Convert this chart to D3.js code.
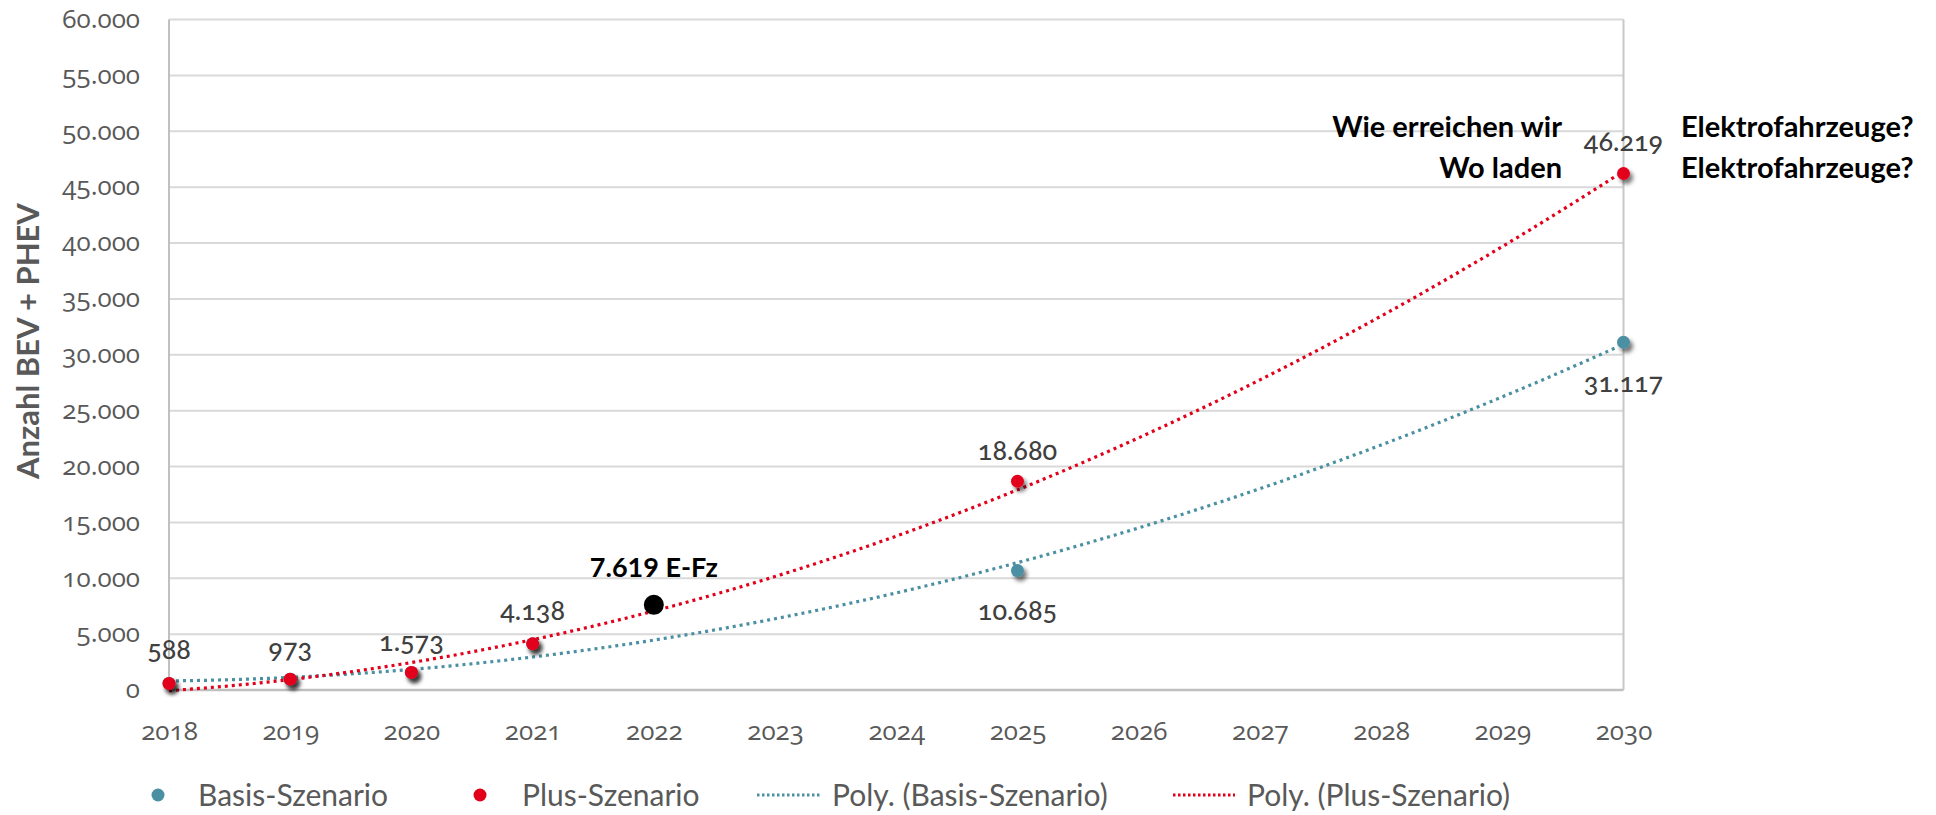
<!DOCTYPE html>
<html><head><meta charset="utf-8">
<script src="https://cdn.jsdelivr.net/npm/d3@7"></script>
<style>
html,body{margin:0;padding:0;background:#fff;}
svg{display:block;}
text{font-family:Lato,"Open Sans",sans-serif;}
.onum{font-family:"Open Sans",Lato,sans-serif;font-variant-numeric:oldstyle-nums;font-feature-settings:"onum" 1;}
</style></head><body>
<svg id="chart" width="1936" height="815"></svg>
<script>
// ---- data ----
const years = ["2018","2019","2020","2021","2022","2023","2024","2025","2026","2027","2028","2029","2030"];
const basisYears = ["2018","2019","2020","2021","2025","2030"];
const basisValues = [588, 973, 1573, 4138, 10685, 31117];
const plusYears = ["2018","2019","2020","2021","2025","2030"];
const plusValues = [588, 973, 1573, 4138, 18680, 46219];
const yTicks = [0,5000,10000,15000,20000,25000,30000,35000,40000,45000,50000,55000,60000];
const highlightYear = "2022";
const highlightValue = 7619;
const highlightLabel = "7.619 E-Fz";
const legendLabels = ["Basis-Szenario","Plus-Szenario","Poly. (Basis-Szenario)","Poly. (Plus-Szenario)"];
const yTitle = "Anzahl BEV + PHEV";
const noteLeft = ["Wie erreichen wir","Wo laden"];
const noteRight = ["Elektrofahrzeuge?","Elektrofahrzeuge?"];

const RED = "#e2001a", TEAL = "#4b8fa2", GREY = "#595959", LBL = "#404040";
const fmt = v => v === 0 ? "0" : d3.format(",")(v).replace(/,/g, ".");

const svg = d3.select("#chart");
const x = d3.scalePoint().domain(years).range([169, 1623.5]);
const y = d3.scaleLinear().domain([0, 60000]).range([690, 19.5]);

// drop shadow filter
const defs = svg.append("defs");
const f = defs.append("filter").attr("id","sh").attr("x","-50%").attr("y","-50%").attr("width","250%").attr("height","250%");
f.append("feDropShadow").attr("dx",3).attr("dy",4).attr("stdDeviation",2.2).attr("flood-color","#000").attr("flood-opacity",0.55);

// gridlines
svg.append("g").selectAll("line").data(yTicks.filter(d => d > 0)).join("line")
  .attr("x1", 169).attr("x2", 1623.5).attr("y1", d => y(d)).attr("y2", d => y(d))
  .attr("stroke", "#d9d9d9").attr("stroke-width", 2);
// border lines
svg.append("line").attr("x1",169).attr("x2",169).attr("y1",y(60000)).attr("y2",y(0)).attr("stroke","#c0c0c0").attr("stroke-width",2);
svg.append("line").attr("x1",1623.5).attr("x2",1623.5).attr("y1",y(60000)).attr("y2",y(0)).attr("stroke","#c8c8c8").attr("stroke-width",2);
svg.append("line").attr("x1",169).attr("x2",1623.5).attr("y1",y(0)).attr("y2",y(0)).attr("stroke","#c0c0c0").attr("stroke-width",2.5);

// y axis labels
const yAxis = d3.axisLeft(y).tickValues(yTicks).tickFormat(fmt).tickSize(0).tickPadding(0);
const ya = svg.append("g").attr("transform","translate(140,0)").call(yAxis);
ya.select(".domain").remove();
ya.selectAll("text").attr("class","onum").attr("fill",GREY).style("font-size","26px").style("font-weight",400).attr("dy","0.3em");

// x axis labels
const xAxis = d3.axisBottom(x).tickSize(0).tickPadding(0);
const xa = svg.append("g").attr("transform","translate(0,732)").call(xAxis);
xa.select(".domain").remove();
xa.selectAll("text").attr("class","onum").attr("fill",GREY).style("font-size","26px").style("font-weight",400).attr("dy","0.3em");

// y title
svg.append("text").attr("transform","translate(28,341) rotate(-90)").attr("text-anchor","middle").attr("dy","0.35em")
  .attr("fill",GREY).style("font-size","31px").style("font-weight",700).text(yTitle);

// polynomial trendlines (least squares, order 2, on category index)
function polyFit(xs, ys, order){
  const n = order + 1;
  const A = Array.from({length:n}, () => new Array(n+1).fill(0));
  xs.forEach((xi, k) => {
    for (let i = 0; i < n; i++){
      for (let j = 0; j < n; j++) A[i][j] += Math.pow(xi, i + j);
      A[i][n] += ys[k] * Math.pow(xi, i);
    }
  });
  for (let i = 0; i < n; i++){
    let p = i; for (let r = i+1; r < n; r++) if (Math.abs(A[r][i]) > Math.abs(A[p][i])) p = r;
    [A[i], A[p]] = [A[p], A[i]];
    for (let r = 0; r < n; r++){ if (r === i) continue; const c = A[r][i] / A[i][i]; for (let cc = i; cc <= n; cc++) A[r][cc] -= c * A[i][cc]; }
  }
  return A.map((row, i) => row[n] / row[i]);
}
const idx = yr => years.indexOf(yr) + 1;
function trend(yrs, vals){
  const c = polyFit(yrs.map(idx), vals, 2);
  const pts = [];
  for (let t = 1; t <= years.length; t += 0.05){
    const v = c.reduce((s, ci, i) => s + ci * Math.pow(t, i), 0);
    pts.push([169 + (t - 1) * x.step(), y(v)]);
  }
  return pts;
}
const line = d3.line();
svg.append("path").attr("d", line(trend(basisYears, basisValues))).attr("fill","none").attr("stroke",TEAL)
  .attr("stroke-width",3.2).attr("stroke-dasharray","3 4");
svg.append("path").attr("d", line(trend(plusYears, plusValues))).attr("fill","none").attr("stroke",RED)
  .attr("stroke-width",3.2).attr("stroke-dasharray","3 4");

// points
svg.append("g").selectAll("circle").data(basisYears.map((d,i)=>[d,basisValues[i]])).join("circle")
  .attr("cx", d => x(d[0])).attr("cy", d => y(d[1])).attr("r", 6.5).attr("fill", TEAL).attr("filter","url(#sh)");
svg.append("g").selectAll("circle").data(plusYears.map((d,i)=>[d,plusValues[i]])).join("circle")
  .attr("cx", d => x(d[0])).attr("cy", d => y(d[1])).attr("r", 6.5).attr("fill", RED).attr("filter","url(#sh)");

// highlight point
svg.append("circle").attr("cx", x(highlightYear)).attr("cy", y(highlightValue)).attr("r", 10).attr("fill","#000");
svg.append("text").attr("x", x(highlightYear)).attr("y", y(highlightValue) - 37).attr("text-anchor","middle").attr("dy","0.35em")
  .attr("fill","#000").style("font-size","27px").style("font-weight",700).text(highlightLabel);

// data labels
const lbl = svg.append("g").attr("class","onum").attr("fill",LBL).style("font-size","27px").style("font-weight",500).attr("text-anchor","middle");
const plusOffsets = [-34, -31, -31, -33, -31, -32];
plusYears.forEach((yr, i) => {
  lbl.append("text").attr("x", x(yr)).attr("y", y(plusValues[i]) + plusOffsets[i]).attr("dy","0.35em").text(fmt(plusValues[i]));
});
basisYears.forEach((yr, i) => {
  if (+yr < 2025) return;
  lbl.append("text").attr("x", x(yr)).attr("y", y(basisValues[i]) + 40).attr("dy","0.35em").text(fmt(basisValues[i]));
});

// annotations
const notes = svg.append("g").attr("fill","#000").style("font-size","29px").style("font-weight",700);
noteLeft.forEach((t,i) => notes.append("text").attr("x",1562).attr("y",127 + i*41).attr("dy","0.35em").attr("text-anchor","end").text(t));
noteRight.forEach((t,i) => notes.append("text").attr("x",1681).attr("y",127 + i*41).attr("dy","0.35em").attr("text-anchor","start").text(t));

// legend
const lg = svg.append("g").attr("fill",GREY).style("font-size","30px");
const ly = 795;
lg.append("circle").attr("cx",158).attr("cy",ly).attr("r",6.5).attr("fill",TEAL);
lg.append("text").attr("x",198).attr("y",ly).attr("dy","0.35em").text(legendLabels[0]);
lg.append("circle").attr("cx",480).attr("cy",ly).attr("r",6.5).attr("fill",RED);
lg.append("text").attr("x",522).attr("y",ly).attr("dy","0.35em").text(legendLabels[1]);
lg.append("line").attr("x1",757).attr("x2",820).attr("y1",ly).attr("y2",ly).attr("stroke",TEAL).attr("stroke-width",3).attr("stroke-dasharray","2.5 2.5");
lg.append("text").attr("x",832).attr("y",ly).attr("dy","0.35em").text(legendLabels[2]);
lg.append("line").attr("x1",1173).attr("x2",1235).attr("y1",ly).attr("y2",ly).attr("stroke",RED).attr("stroke-width",3).attr("stroke-dasharray","2.5 2.5");
lg.append("text").attr("x",1247).attr("y",ly).attr("dy","0.35em").text(legendLabels[3]);
</script>
</body></html>
